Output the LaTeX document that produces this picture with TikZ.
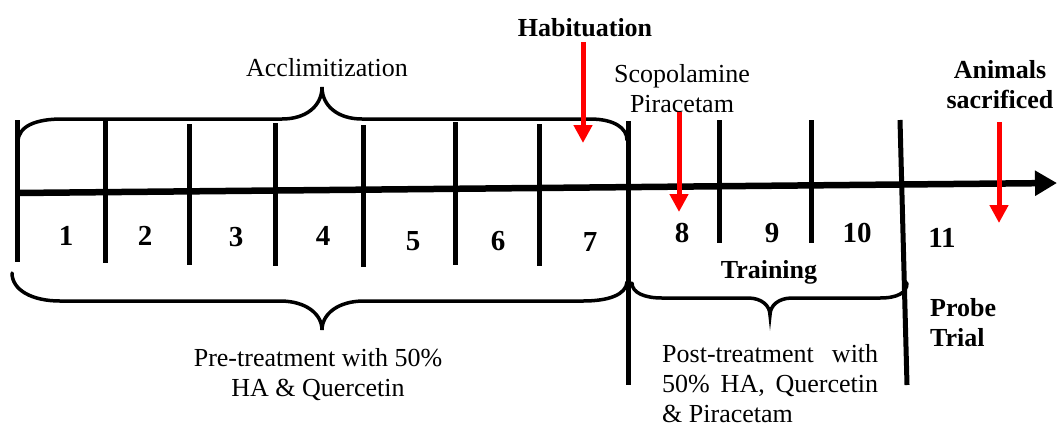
\documentclass[tikz,border=0pt]{standalone}
\usepackage{fontspec}
\setmainfont{Liberation Serif}
\usetikzlibrary{arrows.meta}

\tikzset{
  txt/.style={inner sep=0pt, font=\fontsize{26}{30}\selectfont},
  btxt/.style={inner sep=0pt, font=\fontsize{26}{30}\selectfont\bfseries},
  daynum/.style={inner sep=0pt, font=\fontsize{29}{32}\selectfont\bfseries},
  tick/.style={line width=5pt},
  brace/.style={line width=3.5pt, line cap=round},
  axis/.style={line width=6.5pt, -{Triangle[length=22pt,width=24pt]}},
  redarrow/.style={red, line width=5pt, -{Triangle[length=18pt,width=18pt]}}
}

\begin{document}
\begin{tikzpicture}[x=1pt, y=-1pt]
\useasboundingbox (0,0) rectangle (1057,424);

% time axis
\coordinate (axstart) at (17,193);
\coordinate (axend) at (1057,183);
\draw[axis] (axstart) -- (axend);

% day separators
\foreach \xx/\ya/\yb in {17/120/262, 105/121/263, 189/124/265, 275/123/266,
                          363/125/267, 455/122/265, 539/124/266,
                          719/120/243, 811/120/243}
  \draw[tick] (\xx,\ya) -- (\xx,\yb);
\draw[tick] (628,121) -- (628,385);
\draw[tick] (900,120) -- (907,385);

% day numbers
\node[daynum] (d1)  at (66,236)  {1};
\node[daynum] (d2)  at (145,236) {2};
\node[daynum] (d3)  at (236,237) {3};
\node[daynum] (d4)  at (323,236) {4};
\node[daynum] (d5)  at (413,241) {5};
\node[daynum] (d6)  at (498,241) {6};
\node[daynum] (d7)  at (590,242) {7};
\node[daynum] (d8)  at (682,233) {8};
\node[daynum] (d9)  at (772,233) {9};
\node[daynum] (d10) at (857,233) {10};
\node[daynum] (d11) at (942,238) {11};

% acclimitization brace (days 1-7, above)
\draw[brace] (18,142) .. controls (18,126) and (36,119) .. (62,119)
  -- (282,119) .. controls (306,119) and (322,106) .. (322,87)
  .. controls (322,106) and (338,119) .. (362,119)
  -- (590,119) .. controls (614,119) and (627,128) .. (627,140);
\node[txt] (accl) at (327,68) {Acclimitization};

% pre-treatment brace (days 1-7, below)
\draw[brace] (12,273) .. controls (12,290) and (32,301) .. (60,301)
  -- (280,301) .. controls (306,301) and (322,314) .. (322,330)
  .. controls (322,314) and (338,301) .. (364,301)
  -- (583,301) .. controls (608,301) and (626,295) .. (627,282);
\node[txt, align=center] (pre) at (318,375) {Pre-treatment with 50\%\\HA \& Quercetin};

% training brace (days 8-10, below)
\draw[brace] (632,283) .. controls (632,293) and (645,298) .. (662,298)
  -- (748,298) .. controls (762,298) and (770,306) .. (770,315)
  .. controls (770,306) and (778,298) .. (792,298)
  -- (880,298) .. controls (897,298) and (907,293) .. (907,283);
\node[btxt] (train) at (769,272) {Training};
\node[txt, align=left, anchor=west] (post) at (662,384)
  {\hbox to 216pt{Post-treatment\hfill with}\\
   \hbox to 216pt{50\%\hfill HA,\hfill Quercetin}\\
   \& Piracetam};

% probe trial
\node[btxt, align=left, anchor=west] (probe) at (930,323) {Probe\\Trial};

% event markers
\node[btxt] (hab) at (585,27.5) {Habituation};
\node[txt, align=center] (scop) at (682,89) {Scopolamine\\Piracetam};
\node[btxt, align=center] (sacr) at (1000,84.5) {Animals\\sacrificed};

\coordinate (habtop) at (583,42);
\coordinate (habtip) at (583,143);
\coordinate (scoptop) at (679,112);
\coordinate (scoptip) at (679,212);
\coordinate (sacrtop) at (999,122);
\coordinate (sacrtip) at (999,223);
\draw[redarrow] (habtop) -- (habtip);
\draw[redarrow] (scoptop) -- (scoptip);
\draw[redarrow] (sacrtop) -- (sacrtip);
\end{tikzpicture}
\end{document}
